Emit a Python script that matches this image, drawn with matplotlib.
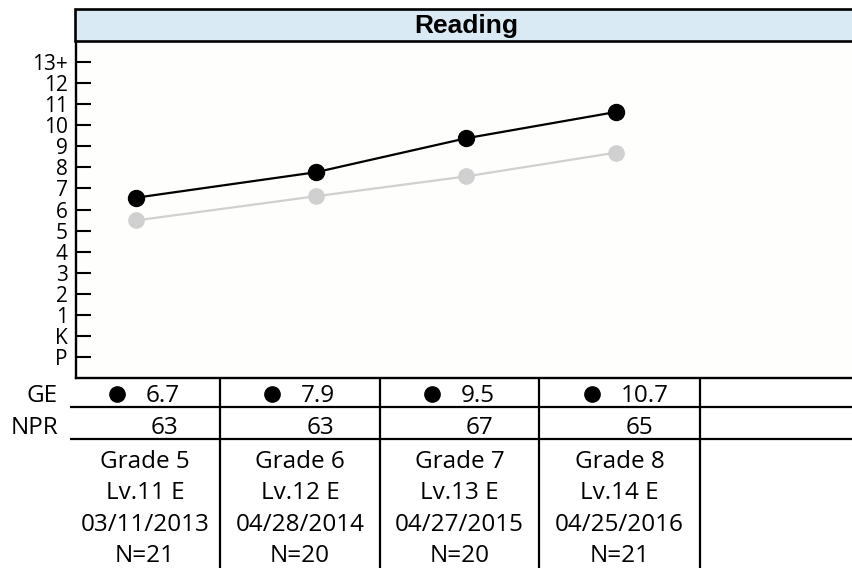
import matplotlib
matplotlib.use("Agg")
import matplotlib.pyplot as plt
from matplotlib.patches import Rectangle

plt.rcParams['font.family'] = ['Open Sans', 'DejaVu Sans']

# ── data ─────────────────────────────────────────────────────────────
subject = "Reading"
test_time = [5.6, 6.8, 7.8, 8.8]          # grade placement at test date (x)
student_line = [6.56, 7.77, 9.38, 10.63]  # plotted GE positions (black)
norm_line = [5.48, 6.63, 7.57, 8.70]      # plotted comparison (grey)

ge_text = ["6.7", "7.9", "9.5", "10.7"]
npr_text = ["63", "63", "67", "65"]
grades = ["Grade 5", "Grade 6", "Grade 7", "Grade 8"]
levels = ["Lv.11 E", "Lv.12 E", "Lv.13 E", "Lv.14 E"]
dates = ["03/11/2013", "04/28/2014", "04/27/2015", "04/25/2016"]
n_counts = ["N=21", "N=20", "N=20", "N=21"]

tick_pos = list(range(-1, 14))
tick_lab = ["P", "K"] + [str(i) for i in range(1, 13)] + ["13+"]

W, H = 852, 568
fig = plt.figure(figsize=(W / 100, H / 100), dpi=100)
fig.patch.set_facecolor('white')

# ── line chart ───────────────────────────────────────────────────────
ax = fig.add_axes([76 / W, 1 - 378 / H, (860 - 76) / W, (378 - 41) / H])
ax.set_facecolor('#fefefd')
ax.plot(test_time, norm_line, color='#d0d0d0', lw=1.6, marker='o',
        ms=11, mec='#d0d0d0', zorder=3)
ax.plot(test_time, student_line, color='black', lw=1.6, marker='o',
        ms=11.5, zorder=4)
ax.set_xlim(5.2, 10.427)
ax.set_ylim(-2, 14)
ax.set_yticks(tick_pos)
ax.set_yticklabels(tick_lab)
ax.set_xticks([])
ax.tick_params(axis='y', direction='in', length=11, width=1.5,
               labelsize=15, pad=6)
for s in ['top', 'right']:
    ax.spines[s].set_visible(False)
for s in ['left', 'bottom']:
    ax.spines[s].set_linewidth(1.7)

# ── overlay in pixel units: header + table ───────────────────────────
ov = fig.add_axes([0, 0, 1, 1])
ov.set_xlim(0, W)
ov.set_ylim(H, 0)
ov.axis('off')

ov.add_patch(Rectangle((75, 9), 800, 32, facecolor='#d9eaf5',
                       edgecolor='black', lw=1.9))
ov.text(466, 33, subject, ha='center', va='baseline', fontsize=19,
        fontweight='bold', family=['Liberation Sans', 'DejaVu Sans'])

col_edges = [70, 220, 380, 539, 700, 860]
line_kw = dict(color='black', lw=1.6, solid_capstyle='butt')
for yy in [407, 439]:
    ov.plot([70, 860], [yy, yy], **line_kw)
for xx in col_edges[1:-1]:
    ov.plot([xx, xx], [378, 570], **line_kw)

fs = 17.5
ov.text(58, 402, "GE", ha='right', va='baseline', fontsize=fs)
ov.text(58, 434, "NPR", ha='right', va='baseline', fontsize=fs)

for i in range(len(ge_text)):
    c = (col_edges[i] + col_edges[i + 1]) / 2
    ov.plot(c - 28, 394, 'o', color='black', ms=11)
    ov.text(c + 1, 402, ge_text[i], ha='left', va='baseline', fontsize=fs)
    ov.text(c + 20, 434, npr_text[i], ha='center', va='baseline', fontsize=fs)
    for txt, base in zip([grades[i], levels[i], dates[i], n_counts[i]],
                         [468, 499, 531, 562]):
        ov.text(c, base, txt, ha='center', va='baseline', fontsize=fs)

fig.savefig('out.png', dpi=100, facecolor='white')
